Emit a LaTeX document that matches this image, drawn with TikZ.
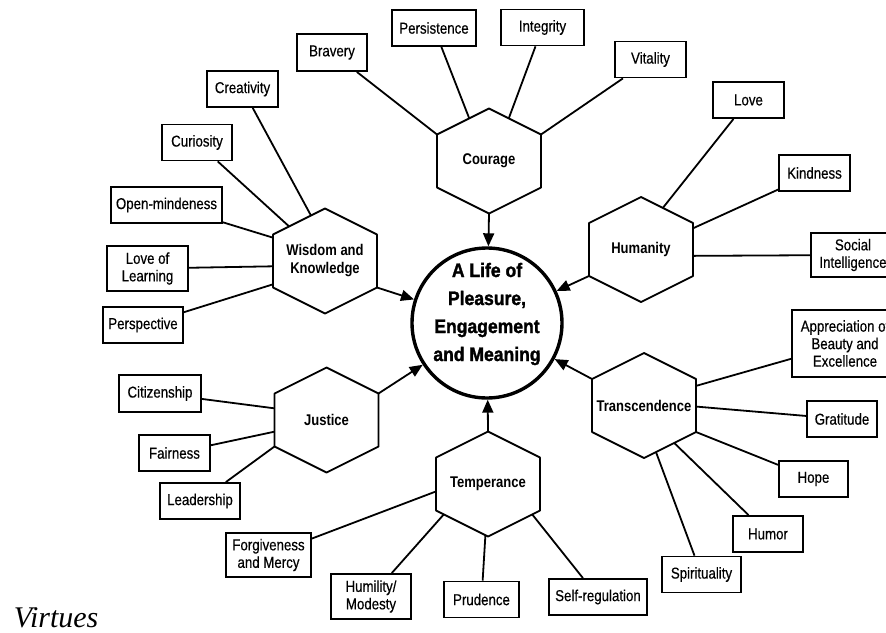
\documentclass[tikz,border=0pt]{standalone}
\usepackage{fontspec}
\setmainfont{Liberation Sans}
\newfontfamily\boxfont[FakeStretch=0.84,FakeBold=0.4]{Liberation Sans}
\newfontfamily\hexfont[FakeStretch=0.84]{Liberation Sans}
\newfontfamily\lifefont[FakeStretch=0.9,BoldFeatures={FakeBold=1.5}]{Liberation Sans}
\newfontfamily\capfont{Liberation Serif}
\usepackage{tikz}
\usetikzlibrary{arrows.meta,calc}

\begin{document}
\begin{tikzpicture}[x=1pt, y=-1pt, line width=1.8pt, >={Triangle[length=13pt,width=11pt]}]
\tikzstyle{vbox} = [rectangle, draw = black, line width=1.8pt, minimum width=70pt, minimum height=36pt, inner sep=3pt, align=center, font=\boxfont\fontsize{15.8pt}{17.5pt}\selectfont]
\tikzstyle{virtue} = [align=center, inner sep=0pt, font=\hexfont\bfseries\fontsize{15.5pt}{18pt}\selectfont]
\tikzstyle{hexline} = [draw = black, line width=1.8pt, line join=round]
\useasboundingbox (0,0) rectangle (886,632);
\clip (0,0) rectangle (886,632);

% centre
\node (life) [circle, draw = black, line width=3.4pt, minimum size=150pt, inner sep=0pt] at (487,323) {};
\node (lifetext) [align=center, font=\lifefont\bfseries\fontsize{19.5pt}{28pt}\selectfont] at (487,314) {A Life of\\Pleasure,\\Engagement\\and Meaning};

% the six virtues
\node (courage) [virtue] at (489,161) {Courage};
\node (wisdom) [virtue] at (325,261) {Wisdom and\\Knowledge};
\node (humanity) [virtue] at (641,249.5) {Humanity};
\node (justice) [virtue] at (326.5,420) {Justice};
\node (temperance) [virtue] at (488,484) {Temperance};
\node (transcendence) [virtue] at (644,405.5) {Transcendence};

\foreach \h in {courage,wisdom,humanity,justice,temperance,transcendence}{
  \coordinate (\h-n) at ($(\h)+(0,-52.5)$);
  \coordinate (\h-ne) at ($(\h)+(52,-26.5)$);
  \coordinate (\h-se) at ($(\h)+(52,26.5)$);
  \coordinate (\h-s) at ($(\h)+(0,52.5)$);
  \coordinate (\h-sw) at ($(\h)+(-52,26.5)$);
  \coordinate (\h-nw) at ($(\h)+(-52,-26.5)$);
  \draw [hexline] (\h-n) -- (\h-ne) -- (\h-se) -- (\h-s) -- (\h-sw) -- (\h-nw) -- cycle;
}

% strengths
\node (bravery) [vbox, minimum height=37pt] at (332,52.5) {Bravery};
\node (persistence) [vbox, minimum width=84pt] at (434,28) {Persistence};
\node (integrity) [vbox, minimum width=83pt] at (542.5,27.5) {Integrity};
\node (vitality) [vbox, minimum width=71pt] at (650.5,59.5) {Vitality};
\node (creativity) [vbox, minimum width=71pt] at (242.5,89) {Creativity};
\node (curiosity) [vbox] at (197,142.5) {Curiosity};
\node (openmind) [vbox, minimum width=111pt] at (166.5,205) {Open-mindeness};
\node (lovelearn) [vbox, minimum width=81pt, minimum height=45pt] at (147.5,268.5) {Love of\\Learning};
\node (perspective) [vbox, minimum width=80pt] at (143,325) {Perspective};
\node (love) [vbox, minimum width=71pt] at (748.5,100) {Love};
\node (kindness) [vbox, minimum width=71pt] at (814.5,173) {Kindness};
\node (social) [vbox, minimum width=84pt, minimum height=44pt] at (853,255) {Social\\Intelligence};
\node (appreciation) [vbox, minimum width=106pt, minimum height=67pt] at (845,343.5) {Appreciation of\\Beauty and\\Excellence};
\node (gratitude) [vbox] at (842,419) {Gratitude};
\node (hope) [vbox, minimum width=69pt] at (813.5,479) {Hope};
\node (humor) [vbox] at (768,534) {Humor};
\node (spirituality) [vbox, minimum width=79pt] at (701.5,574.5) {Spirituality};
\node (selfreg) [vbox, minimum width=98pt] at (598,597) {Self-regulation};
\node (citizenship) [vbox, minimum width=82pt, minimum height=37pt] at (160,393.5) {Citizenship};
\node (fairness) [vbox, minimum width=71pt] at (174.5,453) {Fairness};
\node (leadership) [vbox, minimum width=80pt] at (200,501) {Leadership};
\node (forgiveness) [vbox, minimum width=85pt, minimum height=44pt] at (268.5,555) {Forgiveness\\and Mercy};
\node (humility) [vbox, minimum width=80pt, minimum height=45pt] at (371,596.5) {Humility/\\Modesty};
\node (prudence) [vbox, minimum width=75pt] at (481.5,599.5) {Prudence};

\node (caption) [anchor=base west, inner sep=0pt, font=\capfont\itshape\fontsize{30pt}{32pt}\selectfont] at (13,627) {Virtues};

% courage
\draw (bravery) -- (courage-nw);
\draw (persistence) -- ($(courage-nw)!0.62!(courage-n)$);
\draw (integrity) -- ($(courage-n)!0.38!(courage-ne)$);
\draw (vitality) -- (courage-ne);
% wisdom
\draw (creativity) -- ($(wisdom-nw)!0.73!(wisdom-n)$);
\draw (curiosity) -- ($(wisdom-nw)!0.31!(wisdom-n)$);
\draw (openmind) -- ($(wisdom-nw)!0.06!(wisdom-sw)$);
\draw (lovelearn) -- ($(wisdom-nw)!0.6!(wisdom-sw)$);
\draw (perspective) -- ($(wisdom-nw)!0.94!(wisdom-sw)$);
% humanity
\draw (love) -- ($(humanity-n)!0.42!(humanity-ne)$);
\draw (kindness) -- ($(humanity-ne)!0.1!(humanity-se)$);
\draw (social) -- ($(humanity-ne)!0.62!(humanity-se)$);
% justice
\draw (citizenship) -- ($(justice-nw)!0.28!(justice-sw)$);
\draw (fairness) -- ($(justice-nw)!0.72!(justice-sw)$);
\draw (leadership) -- (justice-sw);
% temperance
\draw (forgiveness) -- ($(temperance-nw)!0.64!(temperance-sw)$);
\draw (humility) -- ($(temperance-sw)!0.15!(temperance-s)$);
\draw (prudence) -- ($(temperance-sw)!0.95!(temperance-s)$);
\draw (selfreg) -- ($(temperance-s)!0.85!(temperance-se)$);
% transcendence
\draw (appreciation) -- ($(transcendence-ne)!0.13!(transcendence-se)$);
\draw (gratitude) -- ($(transcendence-ne)!0.52!(transcendence-se)$);
\draw (hope) -- (transcendence-se);
\draw (humor) -- ($(transcendence-s)!0.58!(transcendence-se)$);
\draw (spirituality) -- ($(transcendence-s)!0.23!(transcendence-se)$);

% into the centre
\draw [->] (courage-s) -- (life);
\draw [->] (wisdom-se) -- (life);
\draw [->] (humanity-sw) -- (life);
\draw [->] (justice-ne) -- (life);
\draw [->] (temperance-n) -- (life);
\draw [->] (transcendence-nw) -- (life);
\end{tikzpicture}
\end{document}
